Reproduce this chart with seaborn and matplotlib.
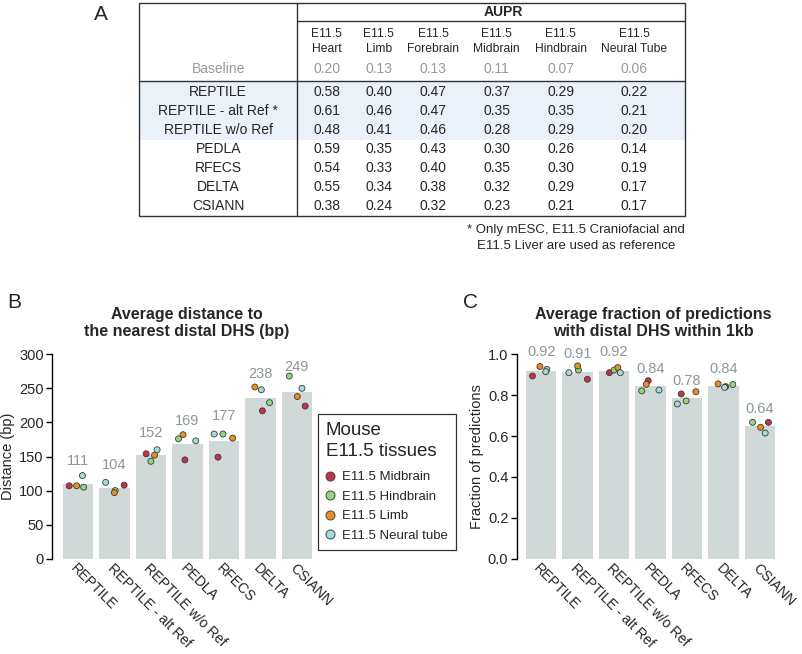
import numpy as np
import pandas as pd
import matplotlib
matplotlib.use('Agg')
import matplotlib.pyplot as plt
import matplotlib.transforms as mtransforms
from matplotlib.lines import Line2D
from matplotlib.patches import Rectangle
import seaborn as sns

# ---- data ----
methods = ['REPTILE', 'REPTILE - alt Ref', 'REPTILE w/o Ref', 'PEDLA', 'RFECS', 'DELTA', 'CSIANN']
tissues = ['E11.5 Midbrain', 'E11.5 Hindbrain', 'E11.5 Limb', 'E11.5 Neural tube']
tissue_colors = ['#C4304E', '#93D67C', '#EA8F1E', '#A5DADB']

# panel A: AUPR table
table_cols = ['E11.5\nHeart', 'E11.5\nLimb', 'E11.5\nForebrain', 'E11.5\nMidbrain',
              'E11.5\nHindbrain', 'E11.5\nNeural Tube']
table_rows = ['REPTILE', 'REPTILE - alt Ref *', 'REPTILE w/o Ref', 'PEDLA', 'RFECS', 'DELTA', 'CSIANN']
baseline = [0.20, 0.13, 0.13, 0.11, 0.07, 0.06]
aupr = [
    [0.58, 0.40, 0.47, 0.37, 0.29, 0.22],
    [0.61, 0.46, 0.47, 0.35, 0.35, 0.21],
    [0.48, 0.41, 0.46, 0.28, 0.29, 0.20],
    [0.59, 0.35, 0.43, 0.30, 0.26, 0.14],
    [0.54, 0.33, 0.40, 0.35, 0.30, 0.19],
    [0.55, 0.34, 0.38, 0.32, 0.29, 0.17],
    [0.38, 0.24, 0.32, 0.23, 0.21, 0.17],
]
footnote = '* Only mESC, E11.5 Craniofacial and\nE11.5 Liver are used as reference'

# panel B: distance per tissue (Midbrain, Hindbrain, Limb, Neural tube)
dist = [
    [107, 105, 107, 122],
    [108, 100, 97, 112],
    [154, 143, 152, 160],
    [145, 176, 182, 173],
    [149, 183, 177, 183],
    [217, 229, 252, 248],
    [224, 268, 238, 250],
]
dist_labels = [111, 104, 152, 169, 177, 238, 249]

# panel C: fraction per tissue
frac = [
    [0.894, 0.927, 0.940, 0.915],
    [0.878, 0.923, 0.943, 0.910],
    [0.910, 0.923, 0.935, 0.910],
    [0.871, 0.821, 0.853, 0.825],
    [0.806, 0.772, 0.817, 0.757],
    [0.842, 0.852, 0.855, 0.838],
    [0.667, 0.667, 0.643, 0.615],
]
frac_labels = [0.92, 0.91, 0.92, 0.84, 0.78, 0.84, 0.64]


def long_df(values):
    rows = []
    for m, vals in zip(methods, values):
        for t, v in zip(tissues, vals):
            rows.append({'method': m, 'tissue': t, 'value': v})
    return pd.DataFrame(rows)


df_dist = long_df(dist)
df_frac = long_df(frac)

sns.set_style('ticks')
plt.rcParams['font.family'] = ['Liberation Sans', 'DejaVu Sans']

W, H = 802, 654
fig = plt.figure(figsize=(W / 100, H / 100), dpi=100)

BAR = '#D1D8D8'
LAB = '#8C9797'


def px(x0, y0, w, h):
    # pixel box -> figure fraction
    return [x0 / W, 1 - (y0 + h) / H, w / W, h / H]


# ---- panel A: table ----
ax_t = fig.add_axes([0, 0, 1, 1], zorder=-1)
ax_t.set_xlim(0, W)
ax_t.set_ylim(H, 0)
ax_t.axis('off')

left, div, right = 139.3, 297.3, 685
top, hline1, hline2, band_bot, bottom = 2.7, 20.7, 80.7, 140, 216
col_x = [326.7, 378.7, 433.3, 496.7, 560.7, 634]
label_x = (left + div) / 2

ax_t.add_patch(Rectangle((left, hline2), right - left, band_bot - hline2,
                         facecolor='#EAF1F8', edgecolor='none'))
ax_t.add_patch(Rectangle((left, top), right - left, bottom - top,
                         facecolor='none', edgecolor='#333333', lw=1.0))
ax_t.plot([div, div], [top, bottom], color='#333333', lw=1.0)
ax_t.plot([div, right], [hline1, hline1], color='#333333', lw=1.0)
ax_t.plot([left, right], [hline2, hline2], color='#333333', lw=1.0)

ax_t.text(503, 11.7, 'AUPR', ha='center', va='center', fontsize=10, fontweight='bold')
for x, c in zip(col_x, table_cols):
    ax_t.text(x, 41.5, c, ha='center', va='center', fontsize=8.7, linespacing=1.35)
ax_t.text(label_x, 69.3, 'Baseline', ha='center', va='center', fontsize=10, color='#999999')
for x, b in zip(col_x, baseline):
    ax_t.text(x, 69.3, f'{b:.2f}', ha='center', va='center', fontsize=10, color='#999999')
for i, (name, vals) in enumerate(zip(table_rows, aupr)):
    y = 91.7 + i * 19.0
    ax_t.text(label_x, y, name, ha='center', va='center', fontsize=10)
    for x, v in zip(col_x, vals):
        ax_t.text(x, y, f'{v:.2f}', ha='center', va='center', fontsize=10)
ax_t.text(right, 238, footnote, ha='right', va='center', multialignment='center',
          fontsize=9.5, linespacing=1.45)

# panel letters
ax_t.text(100.5, 14.5, 'A', ha='center', va='center', fontsize=15)
ax_t.text(14, 302, 'B', ha='center', va='center', fontsize=15)
ax_t.text(470, 302, 'C', ha='center', va='center', fontsize=15)


# ---- panels B and C ----
def bar_panel(ax, df, labels, fmt, offset, ylim, yticks, ylabel, xlim):
    sns.barplot(data=df, x='method', y='value', order=methods, color=BAR,
                saturation=1, errorbar=None, width=0.84, linewidth=0, ax=ax)
    np.random.seed(7)
    sns.stripplot(data=df, x='method', y='value', order=methods, hue='tissue',
                  hue_order=tissues, palette=tissue_colors, jitter=0.28, size=4.3,
                  linewidth=0.6, edgecolor='#3a3a3a', legend=False, ax=ax)
    for i, lab in enumerate(labels):
        ax.text(i, lab + offset, fmt.format(lab), ha='center', va='center',
                fontsize=10.5, color=LAB)
    ax.set_xlim(*xlim)
    ax.set_ylim(*ylim)
    ax.set_yticks(yticks)
    ax.set_xlabel('')
    ax.set_ylabel(ylabel, fontsize=10.5, labelpad=3)
    ax.set_xticks(range(len(methods)))
    ax.set_xticklabels(methods, rotation=-45, ha='left', va='top',
                       rotation_mode='anchor', fontsize=10.2)
    shift = mtransforms.ScaledTranslation(-4 / 72, 0, fig.dpi_scale_trans)
    for t in ax.get_xticklabels():
        t.set_transform(t.get_transform() + shift)
    ax.tick_params(axis='x', length=0, pad=2)
    ax.tick_params(axis='y', length=4, width=1, pad=2, labelsize=10.5, color='black')
    for s in ['top', 'right', 'bottom']:
        ax.spines[s].set_visible(False)
    ax.spines['left'].set_color('black')
    ax.spines['left'].set_linewidth(1)
    ax.patch.set_alpha(0)


ax_b = fig.add_axes(px(52, 354.3, 266, 204.4))
bar_panel(ax_b, df_dist, dist_labels, '{:d}', 33, (0, 300),
          [0, 50, 100, 150, 200, 250, 300], 'Distance (bp)', (-0.71, 6.58))

ax_c = fig.add_axes(px(516.7, 354.3, 266, 204.4))
bar_panel(ax_c, df_frac, frac_labels, '{:.2f}', 0.09, (0, 1.0),
          [0.0, 0.2, 0.4, 0.6, 0.8, 1.0], 'Fraction of predictions', (-0.67, 6.62))

fig.text(187 / W, 1 - 323 / H, 'Average distance to\nthe nearest distal DHS (bp)',
         ha='center', va='center', fontsize=11.5, fontweight='bold', linespacing=1.15)
fig.text(653 / W, 1 - 323 / H, 'Average fraction of predictions\nwith distal DHS within 1kb',
         ha='center', va='center', fontsize=11.5, fontweight='bold', linespacing=1.15)

handles = [Line2D([], [], marker='o', ls='', markerfacecolor=c, markeredgecolor='#444444',
                  markeredgewidth=0.7, markersize=6.5, label=t)
           for t, c in zip(tissues, tissue_colors)]
leg = fig.legend(handles=handles, title='Mouse\nE11.5 tissues', loc='upper left',
                 bbox_to_anchor=(318 / W, 1 - 414 / H), borderaxespad=0, frameon=True,
                 fancybox=False, edgecolor='black', fontsize=9.5, title_fontsize=13.5,
                 alignment='left', handletextpad=0.6, handlelength=0.6,
                 labelspacing=0.55, borderpad=0.6)
leg.get_title().set_linespacing(1.3)
leg._legend_box.sep = 8
leg.get_frame().set_linewidth(0.9)

fig.savefig('out.png', dpi=100, facecolor='white')
